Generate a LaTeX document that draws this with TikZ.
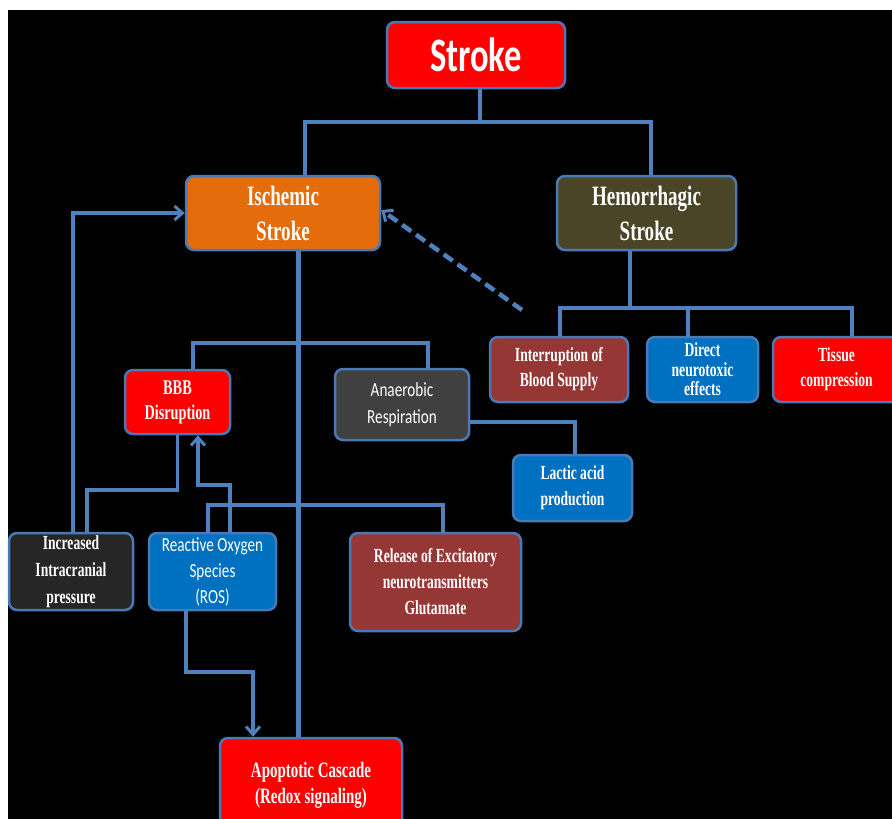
\documentclass[tikz,border=0pt]{standalone}
\usepackage{fontspec}
\setmainfont{Liberation Serif}[FakeStretch=0.68]
\newfontfamily\calfont{Carlito}[FakeStretch=0.76]
\newfontfamily\calbfont{Carlito}[FakeStretch=0.72]
\usetikzlibrary{arrows.meta}
\definecolor{linec}{HTML}{4F81BD}
\definecolor{bordc}{HTML}{4A7AB5}
\definecolor{cred}{HTML}{FF0000}
\definecolor{corange}{HTML}{E46C0A}
\definecolor{colive}{HTML}{4B4528}
\definecolor{cbrown}{HTML}{953735}
\definecolor{cblue}{HTML}{0070C0}
\definecolor{cgray}{HTML}{404040}
\definecolor{cdark}{HTML}{262626}
\tikzset{
  box/.style={draw=bordc, line width=2.5pt, rounded corners=8pt, inner sep=0pt,
    align=center, text=white},
  conn/.style={draw=linec, line width=3.3pt},
  trunk/.style={draw=linec, line width=5pt},
  arr/.style={conn, -{Straight Barb[length=8pt,width=14pt,line width=3pt]}},
}
\begin{document}
\begin{tikzpicture}[x=1pt,y=-1pt]
\useasboundingbox (0,0) rectangle (892,819);
\fill[white] (0,0) rectangle (892,819);
\fill[black] (8,10) rectangle (892,819);

% nodes
\node[box, fill=cred, minimum width=178pt, minimum height=66pt,
  font=\calbfont\bfseries\fontsize{48}{56}\selectfont] (stroke) at (476,55) {Stroke};
\node[box, fill=corange, minimum width=194pt, minimum height=74pt,
  font=\bfseries\fontsize{28}{35}\selectfont] (isch) at (283,213) {Ischemic\\Stroke};
\node[box, fill=colive, minimum width=179pt, minimum height=74pt,
  font=\bfseries\fontsize{28}{35}\selectfont] (hem) at (646.5,213) {Hemorrhagic\\Stroke};

\node[box, fill=cbrown, minimum width=138pt, minimum height=65pt,
  font=\bfseries\fontsize{20}{25}\selectfont] (intr) at (559,369.5) {Interruption of\\Blood Supply};
\node[box, fill=cblue, minimum width=111pt, minimum height=65pt,
  font=\bfseries\fontsize{20}{19.5}\selectfont] (direct) at (702.5,369.5) {Direct\\neurotoxic\\effects};
\node[box, fill=cred, minimum width=127pt, minimum height=65pt,
  font=\bfseries\fontsize{20}{25}\selectfont] (tissue) at (836.5,369.5) {Tissue\\compression};

\node[box, fill=cred, minimum width=105pt, minimum height=64pt,
  font=\bfseries\fontsize{21}{25}\selectfont] (bbb) at (177.5,402) {BBB\\Disruption};
\node[box, fill=cgray, minimum width=134pt, minimum height=71pt,
  font=\calfont\fontsize{20}{27}\selectfont] (anaer) at (402,404.5) {Anaerobic\\Respiration};
\node[box, fill=cblue, minimum width=119pt, minimum height=66pt,
  font=\bfseries\fontsize{20}{26}\selectfont] (lactic) at (572.5,488) {Lactic acid\\production};

\node[box, fill=cdark, minimum width=124pt, minimum height=77pt,
  font=\bfseries\fontsize{20}{27}\selectfont] (incr) at (71,571.5) {Increased\\Intracranial\\pressure};
\node[box, fill=cblue, minimum width=127pt, minimum height=77pt,
  font=\calfont\fontsize{20}{26}\selectfont] (ros) at (212.5,571.5) {Reactive Oxygen\\Species\\(ROS)};
\node[box, fill=cbrown, minimum width=171pt, minimum height=98pt,
  font=\bfseries\fontsize{20}{26}\selectfont] (rel) at (435.5,582) {Release of Excitatory\\neurotransmitters\\Glutamate};
\node[box, fill=cred, minimum width=182pt, minimum height=94pt,
  font=\bfseries\fontsize{22}{26}\selectfont] (apo) at (311,785) {Apoptotic Cascade\\(Redox signaling)};

% helper coordinates
\coordinate (j1) at (480,122);
\coordinate (j2) at (630,308);
\coordinate (j3) at (298,343);
\coordinate (j4) at (298,505);
\coordinate (y490) at (0,490);
\coordinate (y485) at (0,485);
\coordinate (j6) at (253,672);
\coordinate (dstart) at (522,310);

% connectors
\draw[conn] ([xshift=4pt]stroke.south) -- (j1);
\draw[conn] ([xshift=22pt]isch.north) |- (j1) -| ([xshift=4.5pt]hem.north);
\draw[conn] ([xshift=-16.5pt]hem.south) -- (j2);
\draw[conn] ([xshift=1pt]intr.north) |- (j2) -| ([xshift=15.5pt]tissue.north);
\draw[conn] ([xshift=-14.5pt]direct.north) -- ([xshift=-14.5pt]direct.north |- j2);
\draw[conn, line width=4.5pt, dash pattern=on 11pt off 6pt,
  -{Straight Barb[length=8pt,width=14pt,line width=3pt]}] (dstart) -- ([yshift=3pt]isch.east);

\draw[trunk] ([xshift=15pt]isch.south) -- ([xshift=15pt]isch.south |- apo.north);
\draw[conn] ([xshift=15.5pt]bbb.north) |- (j3) -| ([xshift=26pt]anaer.north);
\draw[conn] ([yshift=-17.5pt]anaer.east) -| ([xshift=2.5pt]lactic.north);
\draw[arr] ([xshift=2pt]incr.north) |- (isch.west);
\draw[conn] (bbb.south) -- (bbb.south |- y490) -| ([xshift=16pt]incr.north);
\draw[arr] ([xshift=17.5pt]ros.north) |- ([xshift=20.5pt]bbb.south |- y485) -- ([xshift=20.5pt]bbb.south);
\draw[conn] ([xshift=-4.5pt]ros.north) |- (j4) -| ([xshift=7.5pt]rel.north);
\draw[arr] ([xshift=-26.5pt]ros.south) |- (j6) -- ([xshift=-58pt]apo.north);
\end{tikzpicture}
\end{document}
